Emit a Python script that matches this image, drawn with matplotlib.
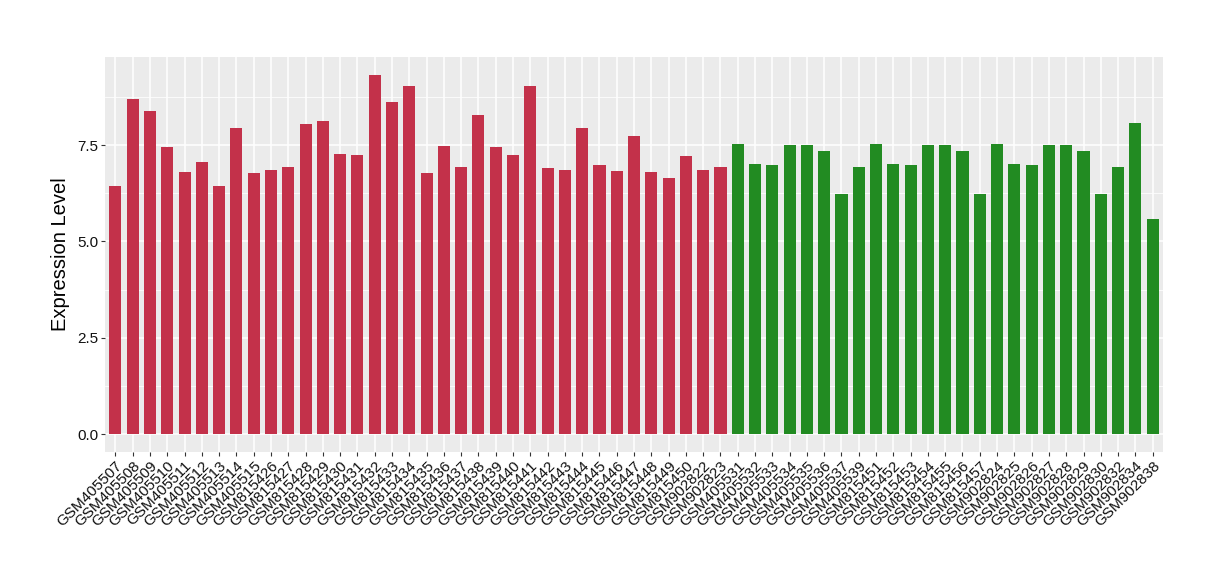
import numpy as np
import matplotlib
matplotlib.use("Agg")
import matplotlib.pyplot as plt
from matplotlib.ticker import MultipleLocator

plt.rcParams["font.family"] = ["Liberation Sans", "DejaVu Sans"]

# samples of the first group (red)
grp1_labels = ["GSM405507", "GSM405508", "GSM405509", "GSM405510", "GSM405511",
               "GSM405512", "GSM405513", "GSM405514", "GSM405515", "GSM815426",
               "GSM815427", "GSM815428", "GSM815429", "GSM815430", "GSM815431",
               "GSM815432", "GSM815433", "GSM815434", "GSM815435", "GSM815436",
               "GSM815437", "GSM815438", "GSM815439", "GSM815440", "GSM815441",
               "GSM815442", "GSM815443", "GSM815444", "GSM815445", "GSM815446",
               "GSM815447", "GSM815448", "GSM815449", "GSM815450", "GSM902822",
               "GSM902823"]
grp1_values = [6.45, 8.70, 8.39, 7.45, 6.80, 7.06, 6.43, 7.94, 6.77, 6.85,
               6.93, 8.05, 8.13, 7.27, 7.24, 9.32, 8.62, 9.03, 6.77, 7.47,
               6.93, 8.28, 7.45, 7.24, 9.03, 6.90, 6.85, 7.94, 6.98, 6.82,
               7.73, 6.80, 6.64, 7.21, 6.85, 6.93]

# samples of the second group (green)
grp2_labels = ["GSM405531", "GSM405532", "GSM405533", "GSM405534", "GSM405535",
               "GSM405536", "GSM405537", "GSM405539", "GSM815451", "GSM815452",
               "GSM815453", "GSM815454", "GSM815455", "GSM815456", "GSM815457",
               "GSM902824", "GSM902825", "GSM902826", "GSM902827", "GSM902828",
               "GSM902829", "GSM902830", "GSM902832", "GSM902834", "GSM902838"]
grp2_values = [7.52, 7.00, 6.98, 7.50, 7.50, 7.34, 6.23, 6.93, 7.52, 7.00,
               6.98, 7.50, 7.50, 7.34, 6.23, 7.52, 7.00, 6.98, 7.50, 7.50,
               7.34, 6.23, 6.93, 8.08, 5.58]

labels = grp1_labels + grp2_labels
values = grp1_values + grp2_values
colors = ["#C3314A"] * len(grp1_values) + ["#228B22"] * len(grp2_values)

fig = plt.figure(figsize=(12.2, 5.8), dpi=100)
ax = fig.add_axes([0.0861, 0.2207, 0.8672, 0.681])
ax.set_facecolor("#EBEBEB")

x = np.arange(len(values))
ax.bar(x, values, width=0.7, color=colors, zorder=3)

ymax = max(values)
ax.set_xlim(-0.6, len(values) - 0.4)
ax.set_ylim(-0.05 * ymax, ymax * 1.05)

ax.yaxis.set_minor_locator(MultipleLocator(1.25))
ax.set_yticks(np.arange(0, 10, 2.5))
ax.set_yticklabels([f"{v:.1f}" for v in np.arange(0, 10, 2.5)])
ax.set_xticks(x)
ax.set_xticklabels(labels, rotation=45, ha="right", rotation_mode="anchor")

ax.grid(which="major", color="white", linewidth=1.1, zorder=0)
ax.grid(which="minor", axis="y", color="white", linewidth=0.55, zorder=0)
ax.tick_params(which="major", length=3, color="#333333", labelsize=11,
               labelcolor="#111111", pad=2)
ax.tick_params(which="minor", length=0)
for s in ax.spines.values():
    s.set_visible(False)

ax.set_ylabel("Expression Level", fontsize=14.5, labelpad=5)

fig.savefig("out.png", dpi=100)
